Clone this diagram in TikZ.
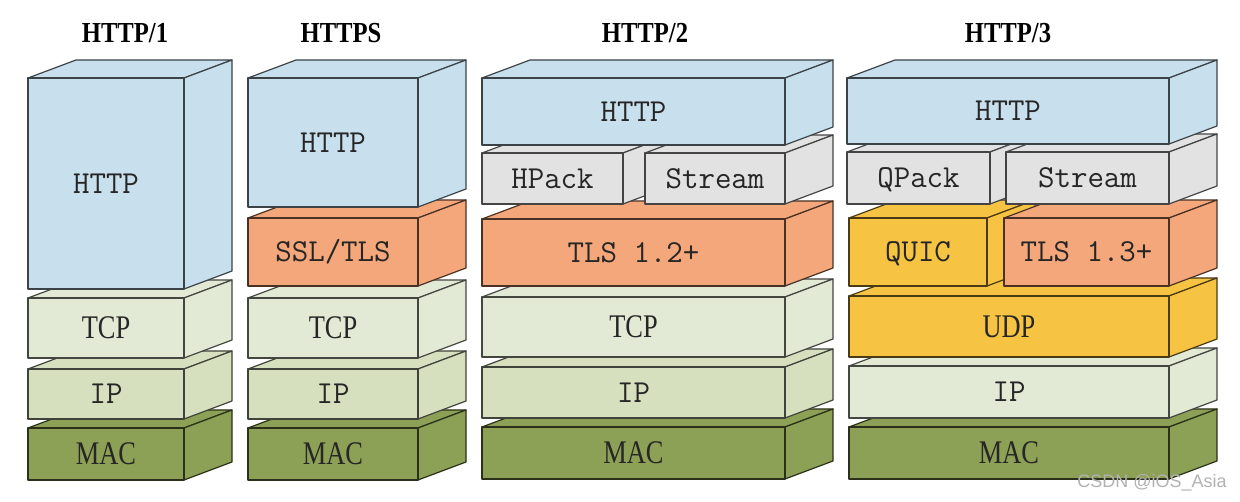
\documentclass[tikz,border=0pt]{standalone}
\usepackage{fontspec}
\newfontfamily\titlefont[FakeStretch=0.85]{Liberation Serif}
\newfontfamily\narrowserif[FakeStretch=0.8]{Liberation Serif}
\newfontfamily\markfont{Liberation Sans}

\definecolor{httpblue}{RGB}{200,224,237}
\definecolor{packgray}{RGB}{226,226,226}
\definecolor{tlsorange}{RGB}{244,167,122}
\definecolor{tcpgreen}{RGB}{226,233,213}
\definecolor{ipgreen}{RGB}{214,224,190}
\definecolor{macgreen}{RGB}{140,160,86}
\definecolor{quicyellow}{RGB}{246,196,66}

\tikzset{
  layer/.style={line width=1.2pt, line join=round},
  mono/.style={font=\ttfamily\fontsize{32}{36}\selectfont, text=black!85,
    inner sep=0pt, text height=19.5pt, text depth=0pt},
  serif/.style={font=\narrowserif\fontsize{33}{38}\selectfont, text=black!85,
    inner sep=0pt, text height=21.5pt, text depth=0pt},
  title/.style={font=\titlefont\bfseries\fontsize{29}{34}\selectfont, inner sep=0pt},
  wmark/.style={font=\markfont\fontsize{18}{20}\selectfont, text=black!30, inner sep=0pt}
}

% one layer: name, left, top, right, bottom, colour, text style, text
\newcommand{\layerbox}[8]{%
  \filldraw[layer, fill=#6, draw=#6!30!black] (#2,#3) -- ({#2+\dx},{#3-\dy})
    -- ({#4+\dx},{#3-\dy}) -- (#4,#3) -- cycle;
  \filldraw[layer, fill=#6, draw=#6!30!black] (#4,#3) -- ({#4+\dx},{#3-\dy})
    -- ({#4+\dx},{#5-\dy}) -- (#4,#5) -- cycle;
  \filldraw[layer, fill=#6, draw=#6!30!black] (#2,#3) rectangle (#4,#5);
  \node[#7] (#1) at ({(#2+#4)/2},{(#3+#5)/2}) {#8};
}

\begin{document}
\begin{tikzpicture}[x=1pt,y=-1pt]
  \def\dx{48}
  \def\dy{18}

  \fill[white] (0,0) rectangle (1240,502);

  % HTTP/1
  \node[title] (t1) at (125,33) {HTTP/1};
  \layerbox{amac}{28}{428}{184}{480}{macgreen}{serif}{MAC}
  \layerbox{aip}{28}{369}{184}{419}{ipgreen}{mono}{IP}
  \layerbox{atcp}{28}{298}{184}{358}{tcpgreen}{serif}{TCP}
  \layerbox{ahttp}{28}{78}{184}{289}{httpblue}{mono}{HTTP}

  % HTTPS
  \node[title] (t2) at (341,33) {HTTPS};
  \layerbox{bmac}{248}{428}{418}{480}{macgreen}{serif}{MAC}
  \layerbox{bip}{248}{369}{418}{419}{ipgreen}{mono}{IP}
  \layerbox{btcp}{248}{298}{418}{358}{tcpgreen}{serif}{TCP}
  \layerbox{bssl}{248}{218}{418}{286}{tlsorange}{mono}{SSL/TLS}
  \layerbox{bhttp}{248}{78}{418}{207}{httpblue}{mono}{HTTP}

  % HTTP/2
  \node[title] (t3) at (645,33) {HTTP/2};
  \layerbox{cmac}{482}{427}{785}{479}{macgreen}{serif}{MAC}
  \layerbox{cip}{482}{367}{785}{418}{ipgreen}{mono}{IP}
  \layerbox{ctcp}{482}{297}{785}{357}{tcpgreen}{serif}{TCP}
  \layerbox{ctls}{482}{219}{785}{286}{tlsorange}{mono}{TLS 1.2+}
  \layerbox{chpack}{482}{153}{623}{204}{packgray}{mono}{HPack}
  \layerbox{cstream}{645}{153}{785}{204}{packgray}{mono}{Stream}
  \layerbox{chttp}{482}{78}{785}{145}{httpblue}{mono}{HTTP}

  % HTTP/3
  \node[title] (t4) at (1008,33) {HTTP/3};
  \layerbox{dmac}{849}{427}{1169}{479}{macgreen}{serif}{MAC}
  \layerbox{dip}{849}{366}{1169}{418}{tcpgreen}{mono}{IP}
  \layerbox{dudp}{849}{296}{1169}{357}{quicyellow}{serif}{UDP}
  \layerbox{dquic}{849}{218}{987}{286}{quicyellow}{mono}{QUIC}
  \layerbox{dtls}{1004}{218}{1169}{286}{tlsorange}{mono}{TLS 1.3+}
  \layerbox{dqpack}{847}{152}{990}{204}{packgray}{mono}{QPack}
  \layerbox{dstream}{1006}{152}{1169}{204}{packgray}{mono}{Stream}
  \layerbox{dhttp}{847}{78}{1169}{144}{httpblue}{mono}{HTTP}

  \node[wmark] (wm) at (1152,483) {CSDN @iOS\_Asia};
\end{tikzpicture}
\end{document}
